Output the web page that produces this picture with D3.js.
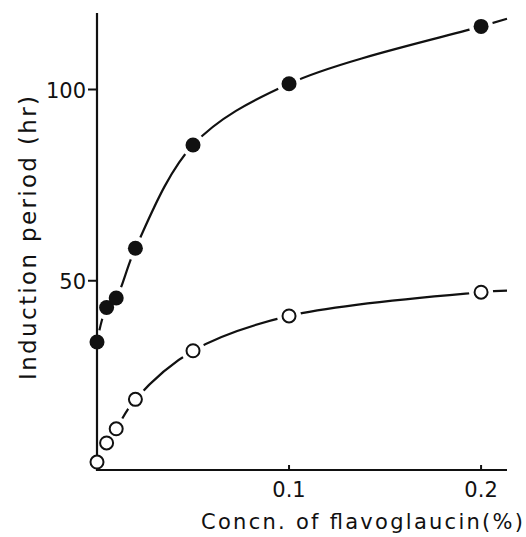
<!DOCTYPE html>
<html>
<head>
<meta charset="utf-8">
<script src="https://cdn.jsdelivr.net/npm/d3@7"></script>
<style>
  body { margin: 0; background: #fff; }
  text { font-family: "DejaVu Sans", sans-serif; fill: #111; }
</style>
</head>
<body>
<div id="chart"></div>
<script>
// concentration (%) for each measurement
const concn = [0, 0.005, 0.01, 0.02, 0.05, 0.1, 0.2];
// induction period (hr), filled circles
const filledVals = [34, 43, 45.5, 58.5, 85.5, 101.5, 116.5];
// induction period (hr), open circles
const openVals = [2.6, 7.6, 11.3, 19, 31.7, 40.8, 47];
// where the drawn curves end, past the last point
const curveEnd = 0.2135;
const filledEnd = 118.5;
const openEnd = 47.4;

const xTicks = [0.1, 0.2];
const yTicks = [50, 100];

const W = 526, H = 537;

const svg = d3.select("#chart").append("svg")
    .attr("width", W)
    .attr("height", H);

const x = d3.scaleLinear().domain([0, curveEnd]).range([97, 507]);
const y = d3.scaleLinear().domain([0, 120]).range([472, 13]);

// curves
const line = d3.line()
    .x(d => x(d[0]))
    .y(d => y(d[1]))
    .curve(d3.curveCatmullRom.alpha(0.5));

const filledPts = concn.map((c, i) => [c, filledVals[i]]);
const openPts = concn.map((c, i) => [c, openVals[i]]);

svg.append("path")
    .attr("d", line(filledPts.concat([[curveEnd, filledEnd]])))
    .attr("fill", "none").attr("stroke", "#111").attr("stroke-width", 2.2);
svg.append("path")
    .attr("d", line(openPts.concat([[curveEnd, openEnd]])))
    .attr("fill", "none").attr("stroke", "#111").attr("stroke-width", 2.2);

// white halos leave a gap in the curve round each marker
svg.selectAll(".halo")
    .data(filledPts.concat(openPts))
    .enter().append("circle")
    .attr("cx", d => x(d[0]))
    .attr("cy", d => y(d[1]))
    .attr("r", 12)
    .attr("fill", "#fff");

// axes, drawn over the halos
svg.append("line")
    .attr("x1", x(0)).attr("x2", x(0))
    .attr("y1", y(120)).attr("y2", y(0) - 1)
    .attr("stroke", "#111").attr("stroke-width", 2.2);
svg.append("line")
    .attr("x1", x(0)).attr("x2", x(curveEnd))
    .attr("y1", y(0) - 2).attr("y2", y(0) - 2)
    .attr("stroke", "#111").attr("stroke-width", 2.2);

// y ticks
yTicks.forEach(t => {
    svg.append("line")
        .attr("x1", x(0) - 9).attr("x2", x(0))
        .attr("y1", y(t)).attr("y2", y(t))
        .attr("stroke", "#111").attr("stroke-width", 2);
    svg.append("text")
        .attr("x", x(0) - 11)
        .attr("y", y(t) + 8)
        .attr("text-anchor", "end")
        .style("font-size", "21px")
        .text(t);
});

// x ticks
xTicks.forEach(t => {
    svg.append("line")
        .attr("x1", x(t)).attr("x2", x(t))
        .attr("y1", y(0) - 2).attr("y2", y(0) - 7)
        .attr("stroke", "#111").attr("stroke-width", 2);
    svg.append("text")
        .attr("x", x(t))
        .attr("y", y(0) + 25)
        .attr("text-anchor", "middle")
        .style("font-size", "21px")
        .text(t);
});

// axis titles
svg.append("text")
    .attr("transform", "translate(36, 238) rotate(-90)")
    .attr("text-anchor", "middle")
    .attr("textLength", 284)
    .style("font-size", "23px")
    .text("Induction period (hr)");
svg.append("text")
    .attr("x", 362)
    .attr("y", 529)
    .attr("text-anchor", "middle")
    .attr("textLength", 322)
    .style("font-size", "21px")
    .text("Concn. of flavoglaucin(%)");

// markers
svg.selectAll(".filled")
    .data(filledPts)
    .enter().append("circle")
    .attr("cx", d => x(d[0]))
    .attr("cy", d => y(d[1]))
    .attr("r", 7.5)
    .attr("fill", "#111");

svg.selectAll(".open")
    .data(openPts)
    .enter().append("circle")
    .attr("cx", d => x(d[0]))
    .attr("cy", d => y(d[1]))
    .attr("r", 6.5)
    .attr("fill", "#fff")
    .attr("stroke", "#111")
    .attr("stroke-width", 2);
</script>
</body>
</html>
